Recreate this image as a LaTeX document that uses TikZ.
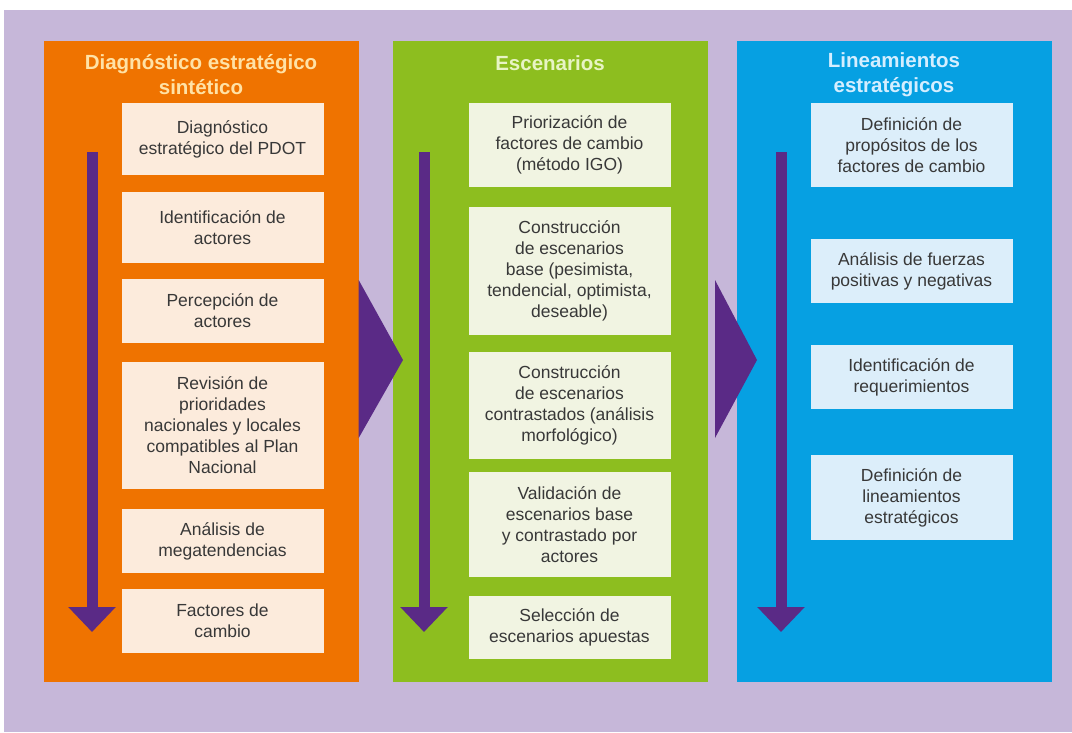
\documentclass[tikz,border=0pt]{standalone}
\usepackage{fontspec}
\setmainfont{Liberation Sans}
\usepackage{tikz}
\usetikzlibrary{arrows.meta,positioning}
\usepackage{xcolor}
\definecolor{fondo}{HTML}{C6B7D9}
\definecolor{naranja}{HTML}{EF7300}
\definecolor{verde}{HTML}{8DBE1F}
\definecolor{azul}{HTML}{06A0E2}
\definecolor{morado}{HTML}{5A2A86}
\definecolor{pasonar}{HTML}{FCEBDC}
\definecolor{pasover}{HTML}{F1F4E2}
\definecolor{pasoazu}{HTML}{DCEEFA}
\definecolor{textgris}{HTML}{383838}
\definecolor{titnar}{HTML}{FFE2A6}
\definecolor{titver}{HTML}{E8F4C4}
\definecolor{titazu}{HTML}{D4EEFF}

\tikzset{
  panel/.style={inner sep=0pt, minimum width=315pt, minimum height=641pt},
  titulo/.style={align=center, font=\fontsize{20.5}{25}\selectfont\bfseries},
  paso/.style={inner sep=0pt, minimum width=202pt, align=center, text=textgris,
    font=\fontsize{17.5}{21}\selectfont},
  flecha/.style={draw=morado, line width=11pt, -{Triangle[width=46pt,length=25pt]}}
}

\begin{document}
\begin{tikzpicture}[x=1pt,y=-1pt]
  \useasboundingbox (0,0) rectangle (1072,732);
  \fill[white] (0,0) rectangle (1072,732);
  \fill[fondo] (4,10) rectangle (1072,732);

  % columnas
  \node[panel, fill=naranja] (pdiag) at (201,361.5) {};
  \node[panel, fill=verde] (pesc) at (550.5,361.5) {};
  \node[panel, fill=azul] (plin) at (894,361.5) {};

  \node[titulo, text=titnar] (tdiag) at (201,74.5) {Diagnóstico estratégico\\sintético};
  \node[titulo, text=titver] (tesc) at (550,63) {Escenarios};
  \node[titulo, text=titazu] (tlin) at (894,75) {Lineamientos\\estratégicos};

  % pasos del diagnostico
  \node[paso, fill=pasonar, minimum height=72pt] (d1) at (222.5,139) {Diagnóstico\\estratégico del PDOT};
  \node[paso, fill=pasonar, minimum height=71pt] (d2) at (222.5,227.5) {Identificación de\\actores};
  \node[paso, fill=pasonar, minimum height=64pt] (d3) at (222.5,311) {Percepción de\\actores};
  \node[paso, fill=pasonar, minimum height=127pt] (d4) at (222.5,425.5) {Revisión de\\prioridades\\nacionales y locales\\compatibles al Plan\\Nacional};
  \node[paso, fill=pasonar, minimum height=64pt] (d5) at (222.5,541) {Análisis de\\megatendencias};
  \node[paso, fill=pasonar, minimum height=64pt] (d6) at (222.5,621) {Factores de\\cambio};

  % pasos de escenarios
  \node[paso, fill=pasover, minimum height=84pt] (e1) at (569.5,145) {Priorización de\\factores de cambio\\(método IGO)};
  \node[paso, fill=pasover, minimum height=128pt] (e2) at (569.5,271) {Construcción\\de escenarios\\base (pesimista,\\tendencial, optimista,\\deseable)};
  \node[paso, fill=pasover, minimum height=107pt] (e3) at (569.5,405.5) {Construcción\\de escenarios\\contrastados (análisis\\morfológico)};
  \node[paso, fill=pasover, minimum height=105pt] (e4) at (569.5,524.5) {Validación de\\escenarios base\\y contrastado por\\actores};
  \node[paso, fill=pasover, minimum height=63pt] (e5) at (569.5,627.5) {Selección de\\escenarios apuestas};

  % pasos de lineamientos
  \node[paso, fill=pasoazu, minimum height=84pt] (l1) at (911.5,145) {Definición de\\propósitos de los\\factores de cambio};
  \node[paso, fill=pasoazu, minimum height=64pt] (l2) at (911.5,271) {Análisis de fuerzas\\positivas y negativas};
  \node[paso, fill=pasoazu, minimum height=64pt] (l3) at (911.5,377) {Identificación de\\requerimientos};
  \node[paso, fill=pasoazu, minimum height=85pt] (l4) at (911.5,497.5) {Definición de\\lineamientos\\estratégicos};

  % flechas verticales
  \coordinate (da) at (92,152);  \coordinate (db) at (92,632);
  \coordinate (ea) at (424,152); \coordinate (eb) at (424,632);
  \coordinate (la) at (781,152); \coordinate (lb) at (781,632);
  \draw[flecha] (da) -- (db);
  \draw[flecha] (ea) -- (eb);
  \draw[flecha] (la) -- (lb);

  % triangulos entre columnas
  \fill[morado] (pdiag.east |- 0,280) -- (403,360) -- (pdiag.east |- 0,438) -- cycle;
  \fill[morado] (715,280) -- (757,360) -- (715,438) -- cycle;
\end{tikzpicture}
\end{document}
